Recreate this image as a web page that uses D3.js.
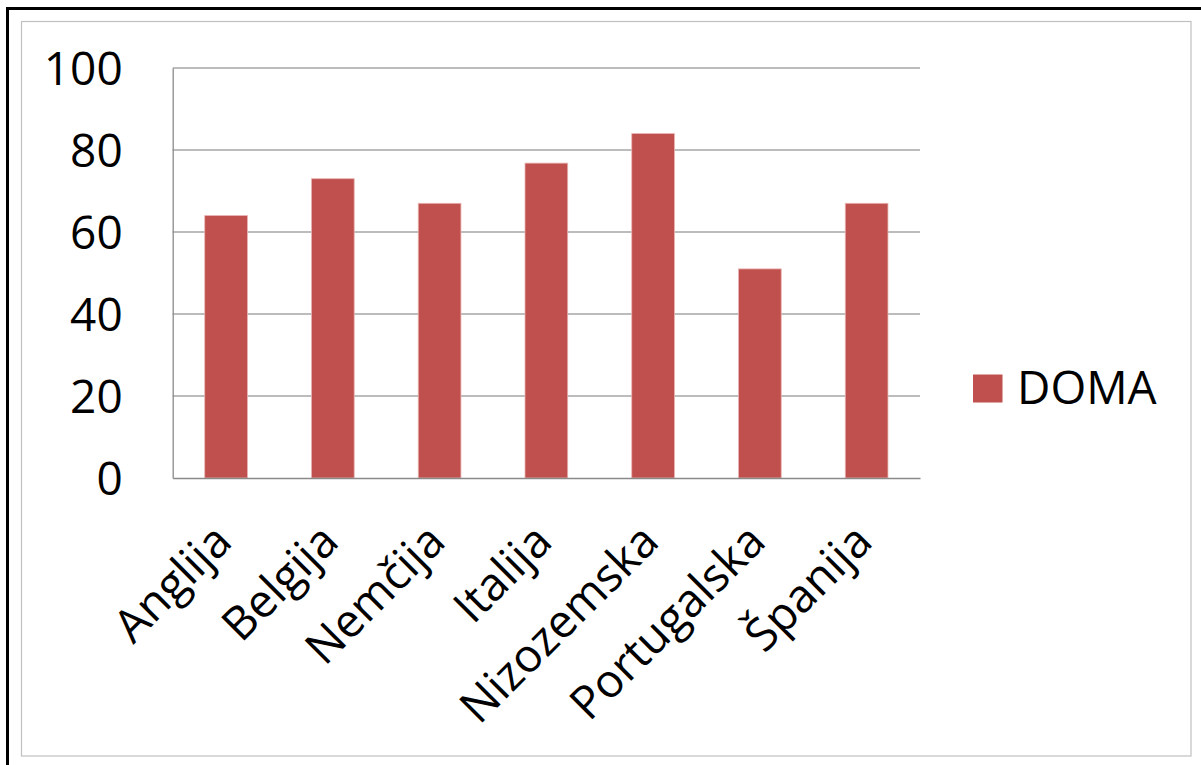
<!DOCTYPE html>
<html>
<head>
<meta charset="utf-8">
<script src="https://cdn.jsdelivr.net/npm/d3@7"></script>
<style>
  html, body { margin: 0; padding: 0; background: #fff; }
  svg { display: block; }
  text { font-family: "Open Sans", "Noto Sans", sans-serif; fill: #000; }
</style>
</head>
<body>
<svg id="chart" width="1201" height="765"></svg>
<script>
const categories = ["Anglija", "Belgija", "Nemčija", "Italija", "Nizozemska", "Portugalska", "Španija"];
const doma = [64, 73, 67, 76.8, 84, 51, 67];
const seriesName = "DOMA";
const yTicks = [0, 20, 40, 60, 80, 100];

const svg = d3.select("#chart");
const W = 1201, H = 765;

// frame: black top/left, grey inner border
svg.append("rect").attr("x", 0).attr("y", 0).attr("width", W).attr("height", H).attr("fill", "#fff");
svg.append("line").attr("x1", 7.5).attr("x2", W).attr("y1", 8.5).attr("y2", 8.5)
  .attr("stroke", "#000").attr("stroke-width", 3);
svg.append("line").attr("x1", 7.5).attr("x2", 7.5).attr("y1", 7).attr("y2", H)
  .attr("stroke", "#000").attr("stroke-width", 3);
svg.append("rect").attr("x", 21.5).attr("y", 21.5).attr("width", 1191 - 21.5).attr("height", 756 - 21.5)
  .attr("fill", "none").attr("stroke", "#c0c0c0").attr("stroke-width", 1.2);

const plot = { left: 172.7, right: 920, top: 68, bottom: 478 };

const x = d3.scaleBand().domain(categories).range([plot.left, plot.right])
  .paddingInner(0.6).paddingOuter(0.3);
const y = d3.scaleLinear().domain([0, 100]).range([plot.bottom, plot.top]);

// gridlines
svg.append("g").selectAll("line").data(yTicks.filter(d => d > 0)).join("line")
  .attr("x1", plot.left).attr("x2", plot.right)
  .attr("y1", d => y(d)).attr("y2", d => y(d))
  .attr("stroke", "#a6a6a6").attr("stroke-width", 1.3);

// y axis
const yAxis = d3.axisLeft(y).tickValues(yTicks).tickSize(0).tickPadding(50).tickFormat(d3.format("d"));
const gy = svg.append("g").attr("transform", `translate(${plot.left},0)`).call(yAxis);
gy.select(".domain").attr("stroke", "#8a8a8a").attr("stroke-width", 1.3);
gy.selectAll("text").attr("font-size", 46).attr("font-family", "'Open Sans', sans-serif")
  .attr("fill", "#000").attr("dy", "0.35em");

// bars
svg.append("g").selectAll("rect").data(categories).join("rect")
  .attr("x", d => x(d)).attr("width", x.bandwidth())
  .attr("y", (d, i) => y(doma[i])).attr("height", (d, i) => y(0) - y(doma[i]))
  .attr("fill", "#c0504d").attr("stroke", "#e8b4b2").attr("stroke-width", 0.8);

// x axis
const xAxis = d3.axisBottom(x).tickSize(0).tickPadding(0);
const gx = svg.append("g").attr("transform", `translate(0,${plot.bottom})`).call(xAxis);
gx.select(".domain").attr("stroke", "#8a8a8a").attr("stroke-width", 1.3);
gx.selectAll("text")
  .attr("font-size", 46).attr("font-family", "'Open Sans', sans-serif").attr("fill", "#000")
  .attr("text-anchor", "end").attr("dy", 0).attr("y", 0)
  .attr("transform", "translate(8,66) rotate(-45)");

// legend
const lg = svg.append("g");
lg.append("rect").attr("x", 973).attr("y", 374.5).attr("width", 29.5).attr("height", 28)
  .attr("fill", "#c0504d");
lg.append("text").attr("x", 1017).attr("y", 404).attr("font-size", 46).text(seriesName);
</script>
</body>
</html>
